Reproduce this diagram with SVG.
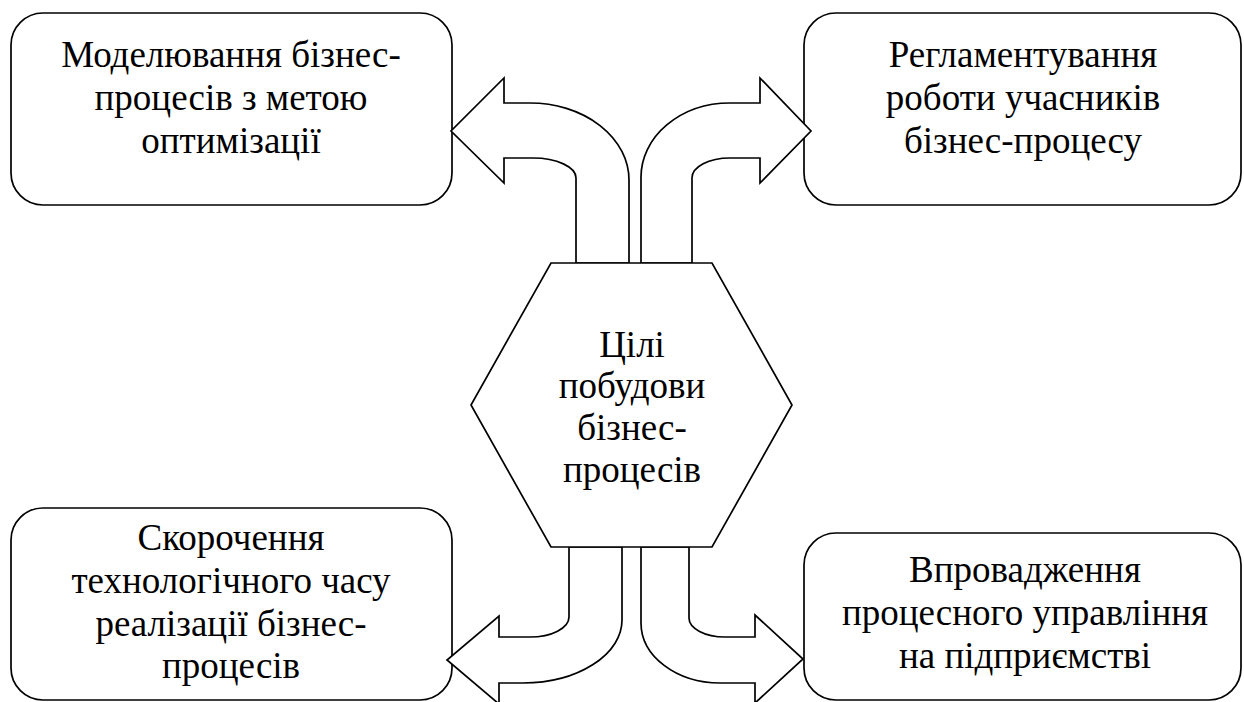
<svg xmlns="http://www.w3.org/2000/svg" width="1244" height="702" viewBox="0 0 1244 702">
<style>
.box{fill:#fff;stroke:#000;stroke-width:1.7}
.arr{fill:#fff;stroke:#000;stroke-width:1.7;stroke-linejoin:miter}
.t{font-family:'Liberation Serif','Times New Roman','DejaVu Serif',serif;font-size:37px;fill:#000;text-anchor:middle}
</style>
<rect width="1244" height="702" fill="#fff"/>
<g id="node-top-left">
<rect class="box" x="11" y="13" width="441" height="192" rx="32" ry="32"/>
<text class="t" font-family="Liberation Serif, serif" x="231" y="67">Моделювання бізнес-</text>
<text class="t" font-family="Liberation Serif, serif" x="231" y="110">процесів з метою</text>
<text class="t" font-family="Liberation Serif, serif" x="231" y="153">оптимізації</text>
</g>
<g id="node-top-right">
<rect class="box" x="804" y="13" width="437" height="192" rx="32" ry="32"/>
<text class="t" font-family="Liberation Serif, serif" x="1023" y="67">Регламентування</text>
<text class="t" font-family="Liberation Serif, serif" x="1023" y="110">роботи учасників</text>
<text class="t" font-family="Liberation Serif, serif" x="1023" y="153">бізнес-процесу</text>
</g>
<g id="node-bottom-left">
<rect class="box" x="11" y="508" width="441" height="192" rx="32" ry="32"/>
<text class="t" font-family="Liberation Serif, serif" x="231" y="550">Скорочення</text>
<text class="t" font-family="Liberation Serif, serif" x="231" y="593">технологічного часу</text>
<text class="t" font-family="Liberation Serif, serif" x="231" y="636">реалізації бізнес-</text>
<text class="t" font-family="Liberation Serif, serif" x="231" y="678">процесів</text>
</g>
<g id="node-bottom-right">
<rect class="box" x="804" y="533" width="437" height="167" rx="32" ry="32"/>
<text class="t" font-family="Liberation Serif, serif" x="1025" y="582">Впровадження</text>
<text class="t" font-family="Liberation Serif, serif" x="1025" y="625">процесного управління</text>
<text class="t" font-family="Liberation Serif, serif" x="1025" y="668">на підприємстві</text>
</g>
<g id="connectors">
<path class="arr" d="M629,263 L629,180 A99,77 0 0 0 530,103 L504,103 L504,78 L451,131 L504,183 L504,158 L533,158 A43,20 0 0 1 576,178 L576,263 Z"/>
<path class="arr" d="M641,263 L641,177 A89,74 0 0 1 730,103 L760,103 L760,78 L811,131 L760,183 L760,158 L730,158 A38,20 0 0 0 692,178 L692,263 Z"/>
<path class="arr" d="M569,547 L569,617 A39,20 0 0 1 530,637 L499,637 L499,616 L447,660 L499,704 L499,683 L523,683 A99,63 0 0 0 622,620 L622,547 Z"/>
<path class="arr" d="M641,547 L641,623 A79,60 0 0 0 720,683 L755,683 L755,703 L803,659 L755,615 L755,637 L725,637 A36,19 0 0 1 689,618 L689,547 Z"/>
</g>
<g id="node-center">
<polygon class="box" points="551,263 712,263 792,405 712,547 551,547 471,405"/>
<text class="t" font-family="Liberation Serif, serif" x="632" y="357">Цілі</text>
<text class="t" font-family="Liberation Serif, serif" x="632" y="398">побудови</text>
<text class="t" font-family="Liberation Serif, serif" x="632" y="440">бізнес-</text>
<text class="t" font-family="Liberation Serif, serif" x="632" y="482">процесів</text>
</g>
</svg>
